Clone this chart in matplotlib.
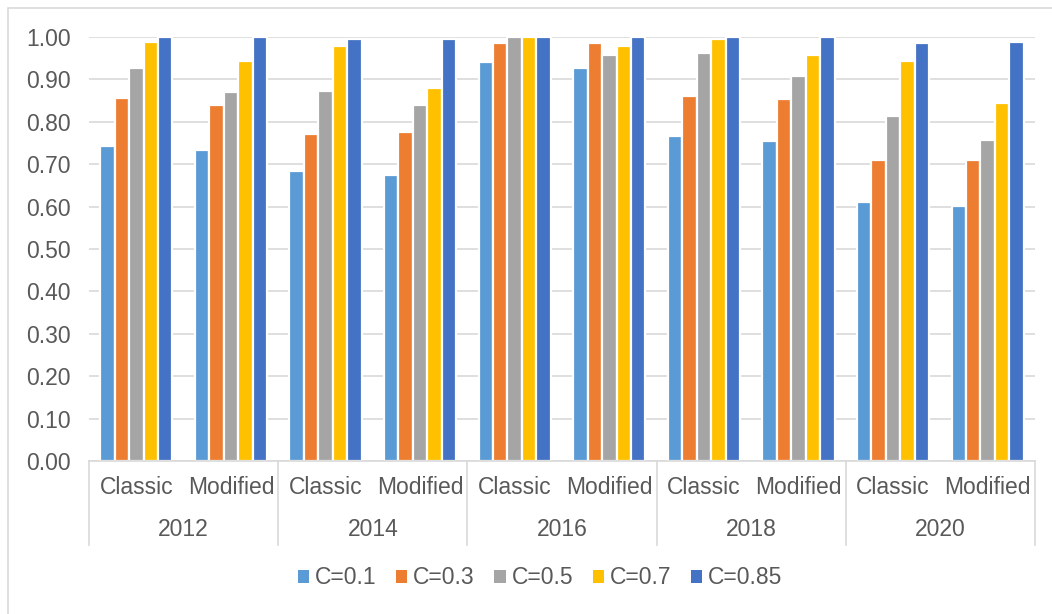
import numpy as np
import matplotlib.pyplot as plt
from matplotlib.patches import Patch, Rectangle
from matplotlib.transforms import blended_transform_factory

plt.rcParams['font.family'] = ['Liberation Sans', 'DejaVu Sans']

# Années et méthodes (axe à deux niveaux)
annees = ['2012', '2014', '2016', '2018', '2020']
methodes = ['Classic', 'Modified']
series = ['C=0.1', 'C=0.3', 'C=0.5', 'C=0.7', 'C=0.85']
couleurs = ['#5B9BD5', '#ED7D31', '#A5A5A5', '#FFC000', '#4472C4']

# Valeurs par série, ordre : 2012 Classic, 2012 Modified, 2014 Classic, ...
c01 = [0.744, 0.733, 0.683, 0.675, 0.941, 0.928, 0.766, 0.755, 0.612, 0.601]
c03 = [0.856, 0.840, 0.771, 0.776, 0.985, 0.987, 0.860, 0.854, 0.709, 0.711]
c05 = [0.928, 0.871, 0.873, 0.840, 1.000, 0.958, 0.962, 0.908, 0.813, 0.757]
c07 = [0.988, 0.944, 0.979, 0.880, 1.000, 0.978, 0.995, 0.958, 0.944, 0.844]
c085 = [1.000, 1.000, 0.996, 0.995, 1.000, 1.000, 1.000, 1.000, 0.986, 0.988]
valeurs = [c01, c03, c05, c07, c085]

gris_txt = '#595959'
gris_ligne = '#D9D9D9'
fs = 16.5

fig = plt.figure(figsize=(10.52, 6.14), dpi=100)
ax = fig.add_axes([89 / 1052, 1 - 461 / 614, (1035 - 89) / 1052, (461 - 37) / 614])

# Cadre du graphique
fig.patches.append(Rectangle((8 / 1052, -0.1), 1.2, 1 - 8 / 614 + 0.1,
                             transform=fig.transFigure, fill=False,
                             edgecolor=gris_ligne, linewidth=1.2))

n_cat = len(annees) * len(methodes)
x = np.arange(n_cat)
largeur = 0.153
for i, (vals, coul) in enumerate(zip(valeurs, couleurs)):
    decal = (i - 2) * largeur
    ax.bar(x + decal, vals, width=largeur, color=coul, edgecolor='white',
           linewidth=1.6, zorder=3)

ax.set_xlim(-0.5, n_cat - 0.5)
ax.set_ylim(0, 1.0)
ax.set_yticks(np.arange(0, 1.01, 0.1))
ax.set_yticklabels([f'{v:.2f}' for v in np.arange(0, 1.01, 0.1)])
ax.tick_params(axis='y', length=0, pad=13, labelsize=fs, labelcolor=gris_txt)
ax.set_xticks([])
ax.grid(axis='y', color=gris_ligne, linewidth=1.2, zorder=0)
for s in ['left', 'right', 'top']:
    ax.spines[s].set_visible(False)
ax.spines['bottom'].set_color(gris_ligne)
ax.spines['bottom'].set_linewidth(1.2)
ax.spines['bottom'].set_zorder(4)

# Axe des catégories à deux niveaux
trans = blended_transform_factory(ax.transData, ax.transAxes)
h = 424
y_meth = -(487 - 461) / h
y_annee = -(530 - 461) / h
y_bas = -(545 - 461) / h
for k in range(n_cat):
    ax.text(x[k], y_meth, methodes[k % 2], transform=trans, ha='center',
            va='center', fontsize=fs, color=gris_txt)
for j, an in enumerate(annees):
    ax.text(2 * j + 0.5, y_annee, an, transform=trans, ha='center',
            va='center', fontsize=fs, color=gris_txt)
for b in np.arange(-0.5, n_cat, 2):
    ax.plot([b, b], [0, y_bas], transform=trans, color=gris_ligne,
            linewidth=1.2, clip_on=False)

# Légende
poignees = [Patch(facecolor=c, edgecolor='none') for c in couleurs]
fig.legend(poignees, series, loc='center', bbox_to_anchor=(540 / 1052, 1 - 578 / 614),
           ncol=5, frameon=False, fontsize=fs, labelcolor=gris_txt,
           handlelength=0.5, handleheight=0.5, handletextpad=0.25,
           columnspacing=0.85)

fig.savefig('out.png', dpi=100)
